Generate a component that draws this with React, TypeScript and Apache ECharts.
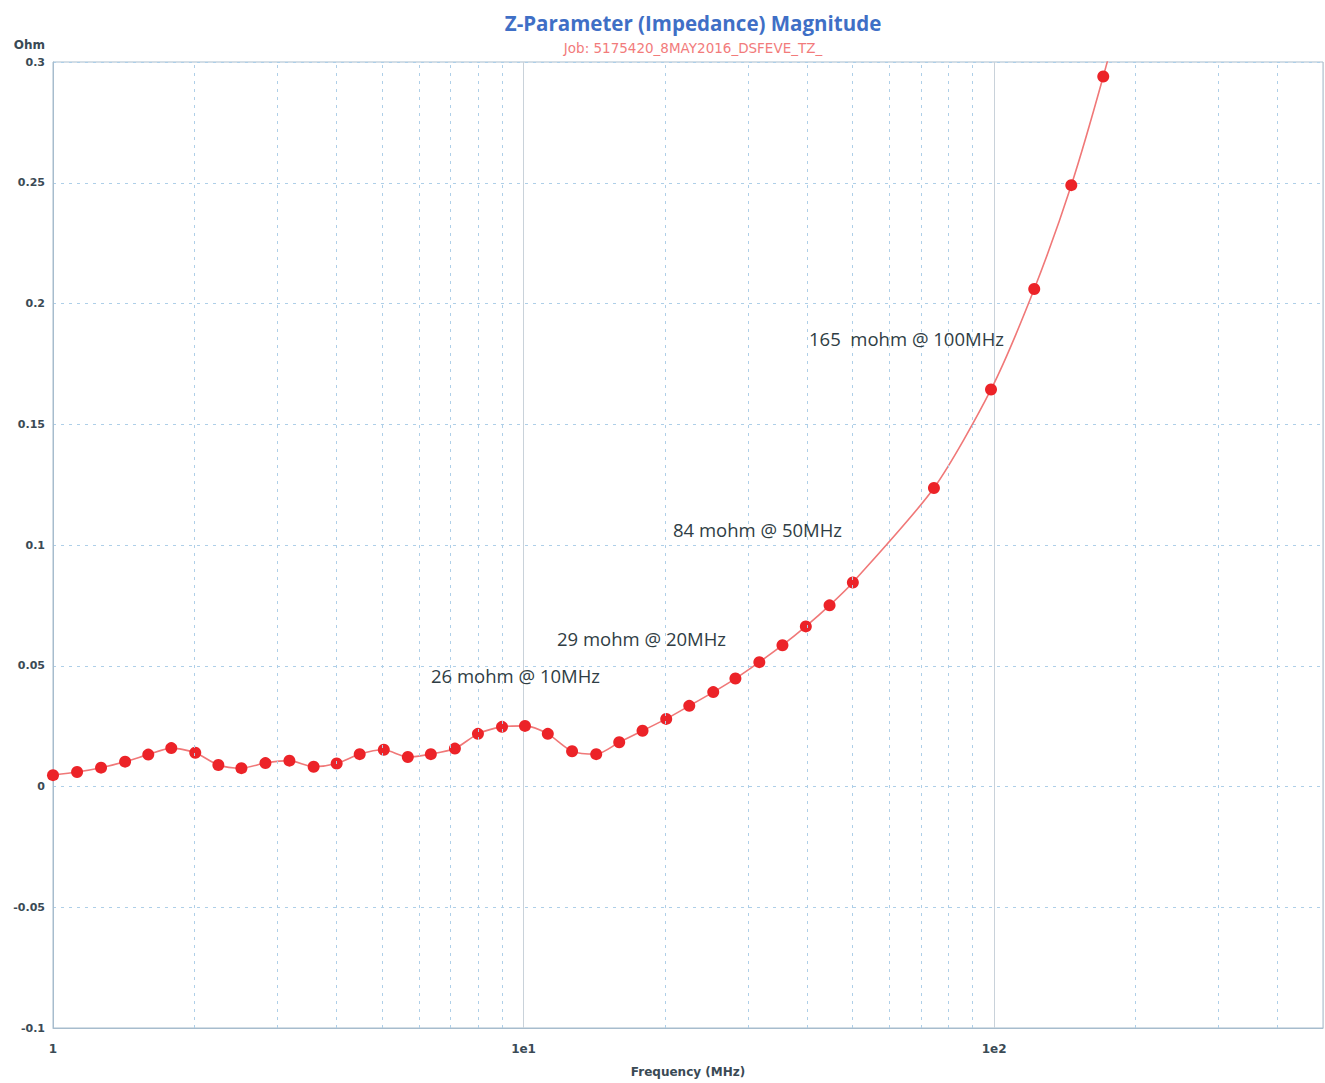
import React, { useEffect, useRef } from "react";
import * as echarts from "echarts";

// Frequency (MHz)
const freqs = [
  1, 1.125, 1.265, 1.423, 1.594, 1.784, 2.006, 2.246, 2.514, 2.828, 3.18, 3.58,
  4.007, 4.485, 5.047, 5.676, 6.353, 7.147, 8.0, 9.0, 10.07, 11.26, 12.68, 14.27,
  15.97, 17.9, 20.1, 22.5, 25.3, 28.2, 31.7, 35.5, 39.8, 44.7, 50.1, 74.5, 98.5,
  121.7, 145.9, 170.6, 200,
];
// Impedance magnitude (Ohm)
const impedance = [
  0.0047, 0.006, 0.0078, 0.0103, 0.0132, 0.0159, 0.014, 0.0089, 0.0076, 0.0097,
  0.0107, 0.0082, 0.0095, 0.0134, 0.0152, 0.0122, 0.0134, 0.0157, 0.0218, 0.0247,
  0.0251, 0.0218, 0.0146, 0.0134, 0.0183, 0.0231, 0.028, 0.0334, 0.0391, 0.0447,
  0.0515, 0.0585, 0.0663, 0.075, 0.0845, 0.1236, 0.1644, 0.206, 0.249, 0.294,
  0.345,
];
// Minor (dashed) frequency grid lines
const minorFreqs = [
  2, 3, 4, 5, 6, 7, 8, 9, 20, 30, 40, 50, 60, 70, 80, 90, 200, 300, 400,
];
const xTickLabels: Record<string, string> = { "1": "1", "10": "1e1", "100": "1e2" };

const annotations = [
  { text: "26 mohm @ 10MHz", x: 431, y: 675 },
  { text: "29 mohm @ 20MHz", x: 557, y: 638 },
  { text: "84 mohm @ 50MHz", x: 673, y: 529 },
  { text: "165  mohm @ 100MHz", x: 809, y: 338 },
];

const TITLE = "Z-Parameter (Impedance) Magnitude";
const SUBTITLE = "Job: 5175420_8MAY2016_DSFEVE_TZ_";

export default function App() {
  const ref = useRef<HTMLDivElement>(null);
  useEffect(() => {
    document.body.style.margin = "0";
    if (!ref.current) return;
    const chart = echarts.init(ref.current, null, { renderer: "svg" });
    const gridColor = "#aecfe8";
    const labelFont = "DejaVu Sans";
    const data = freqs.map((f, i) => {
      const item: any = { value: [f, impedance[i]] };
      if (i === freqs.length - 1) item.symbolSize = 0;
      return item;
    });
    chart.setOption({
      animation: false,
      backgroundColor: "#ffffff",
      title: {
        text: TITLE,
        subtext: SUBTITLE,
        left: 688,
        textAlign: "center",
        top: 7,
        itemGap: 8,
        textStyle: {
          fontFamily: "Open Sans",
          fontWeight: "bold",
          fontSize: 20.5,
          color: "#3f6fc6",
        },
        subtextStyle: {
          fontFamily: "DejaVu Sans",
          fontSize: 13.5,
          color: "#f27b7b",
        },
      },
      grid: {
        left: 53,
        right: 2,
        top: 62,
        bottom: 51,
        show: true,
        borderColor: "#a7bccd",
        borderWidth: 1,
      },
      xAxis: {
        type: "log",
        logBase: 10,
        min: 1,
        max: 500,
        name: "Frequency (MHz)",
        nameLocation: "middle",
        nameGap: 38,
        nameTextStyle: {
          fontFamily: labelFont,
          fontWeight: "bold",
          fontSize: 12,
          color: "#3a4a55",
        },
        axisLine: { show: true, onZero: false, lineStyle: { color: "#a7bccd" } },
        axisTick: { show: false },
        axisLabel: {
          fontFamily: labelFont,
          fontWeight: "bold",
          fontSize: 12,
          color: "#3a4a55",
          margin: 15,
          showMinLabel: true,
          showMaxLabel: false,
          formatter: (v: number) => xTickLabels[String(Math.round(v))] ?? "",
        },
        splitLine: { show: true, lineStyle: { color: "#c9d2da", width: 1 } },
      },
      yAxis: {
        type: "value",
        min: -0.1,
        max: 0.3,
        interval: 0.05,
        name: "Ohm",
        nameLocation: "end",
        nameGap: 11,
        nameTextStyle: {
          fontFamily: labelFont,
          fontWeight: "bold",
          fontSize: 12,
          color: "#3a4a55",
          align: "right",
          padding: [0, 8, 0, 0],
        },
        axisLine: { show: true, lineStyle: { color: "#a7bccd" } },
        axisTick: { show: false },
        axisLabel: {
          fontFamily: labelFont,
          fontWeight: "bold",
          fontSize: 11,
          color: "#3a4a55",
          margin: 8,
          formatter: (v: number) => String(parseFloat(v.toFixed(2))),
        },
        splitLine: {
          show: true,
          lineStyle: { color: gridColor, type: [3, 5], width: 1 },
        },
      },
      series: [
        {
          type: "line",
          data: [],
          z: 1,
          silent: true,
          markLine: {
            silent: true,
            symbol: "none",
            label: { show: false },
            lineStyle: { color: gridColor, type: [3, 5], width: 1 },
            data: minorFreqs.map((f) => ({ xAxis: f })),
          },
        },
        {
          type: "line",
          data,
          z: 3,
          smooth: 0.25,
          clip: true,
          symbol: "circle",
          symbolSize: 12,
          showAllSymbol: true,
          lineStyle: { color: "#f07878", width: 1.6 },
          itemStyle: { color: "#ec2328" },
        },
      ],
      graphic: annotations.map((a) => ({
        type: "text",
        x: a.x,
        y: a.y,
        z: 10,
        style: {
          text: a.text,
          fill: "#2f3d44",
          font: "18.5px 'Open Sans'",
          verticalAlign: "middle",
        },
      })),
    });
    return () => chart.dispose();
  }, []);
  return <div ref={ref} style={{ width: 1325, height: 1083 }} />;
}
